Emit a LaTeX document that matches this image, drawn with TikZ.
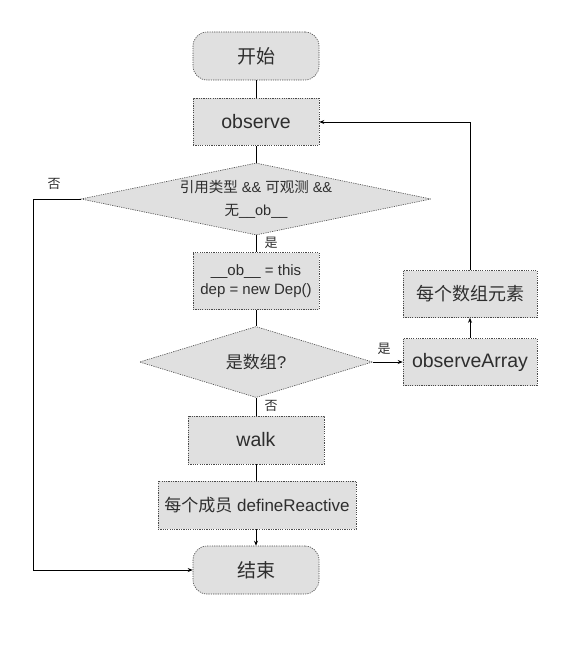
\documentclass[tikz,border=0pt]{standalone}
\usepackage{fontspec}
\setmainfont{Liberation Sans}
\newfontfamily\cjk{Noto Sans CJK SC}
\usetikzlibrary{shapes.geometric,arrows.meta}
\definecolor{boxfill}{HTML}{E0E0E0}
\definecolor{boxline}{HTML}{4A4A4A}
\definecolor{txt}{HTML}{2E2E2E}
\tikzset{
  base/.style={draw=boxline,fill=boxfill,line width=0.6pt,dash pattern=on 1.2pt off 1.1pt,inner sep=0pt,align=center,text=txt},
  procbox/.style={base,rectangle},
  termbox/.style={base,rectangle,rounded corners=14pt,minimum width=126pt,minimum height=48pt,font=\cjk\fontsize{19}{22}\selectfont},
  decbox/.style={base,diamond},
  conn/.style={line width=0.7pt,black},
  arr/.style={conn,-{Stealth[length=5pt,width=4pt]}},
  lbl/.style={font=\cjk\fontsize{13}{15}\selectfont,inner sep=0pt,text=txt}
}
\begin{document}
\begin{tikzpicture}[x=1pt,y=-1pt]
\useasboundingbox (0,0) rectangle (561,663);
\node[termbox] (start) at (256,56) {开始};
\node[procbox,minimum width=126pt,minimum height=47pt,font=\fontsize{19.5}{22}\selectfont] (observe) at (256,122) {observe};
\node[decbox,minimum width=350pt,minimum height=72pt,aspect=4.86,font=\fontsize{14.5}{23}\selectfont] (d1) at (256,199) {{\cjk 引用类型} \&\& {\cjk 可观测} \&\&\\{\cjk 无}\_\_ob\_\_};
\node[procbox,minimum width=126pt,minimum height=57pt,font=\fontsize{15}{19}\selectfont] (ob) at (256,281) {\_\_ob\_\_ = this\\dep = new Dep()};
\node[decbox,minimum width=233pt,minimum height=71pt,aspect=3.28,font=\fontsize{17}{20}\selectfont] (d2) at (256,362) {{\cjk 是数组}?};
\node[procbox,minimum width=134pt,minimum height=47pt,font=\fontsize{19.5}{22}\selectfont] (oa) at (470,362) {observeArray};
\node[procbox,minimum width=134pt,minimum height=47pt,font=\cjk\fontsize{18}{22}\selectfont] (each) at (470,294) {每个数组元素};
\node[procbox,minimum width=136pt,minimum height=48pt,font=\fontsize{19.5}{22}\selectfont] (walk) at (256,440) {walk};
\node[procbox,minimum width=198pt,minimum height=48pt,font=\fontsize{17}{20}\selectfont] (def) at (257,505) {{\cjk 每个成员} defineReactive};
\node[termbox] (end) at (256,570) {结束};
\coordinate (lc) at (33,199);
\node[lbl] (no1) at (54,184) {否};
\node[lbl] (yes1) at (271,243) {是};
\node[lbl] (yes2) at (384,349) {是};
\node[lbl] (no2) at (271,406) {否};
\draw[conn] (start) -- (observe);
\draw[conn] (observe) -- (d1);
\draw[conn] (d1) -- (ob);
\draw[conn] (ob) -- (d2);
\draw[conn] (d2) -- (walk);
\draw[conn] (walk) -- (def.north -| walk.south);
\draw[arr] (def.south -| end.north) -- (end);
\draw[arr] (d2.east) -- (oa.west);
\draw[arr] (oa) -- (each);
\draw[arr] (each.north) |- (observe.east);
\draw[arr] (d1.west) -- (lc) |- (end.west);
\end{tikzpicture}
\end{document}
